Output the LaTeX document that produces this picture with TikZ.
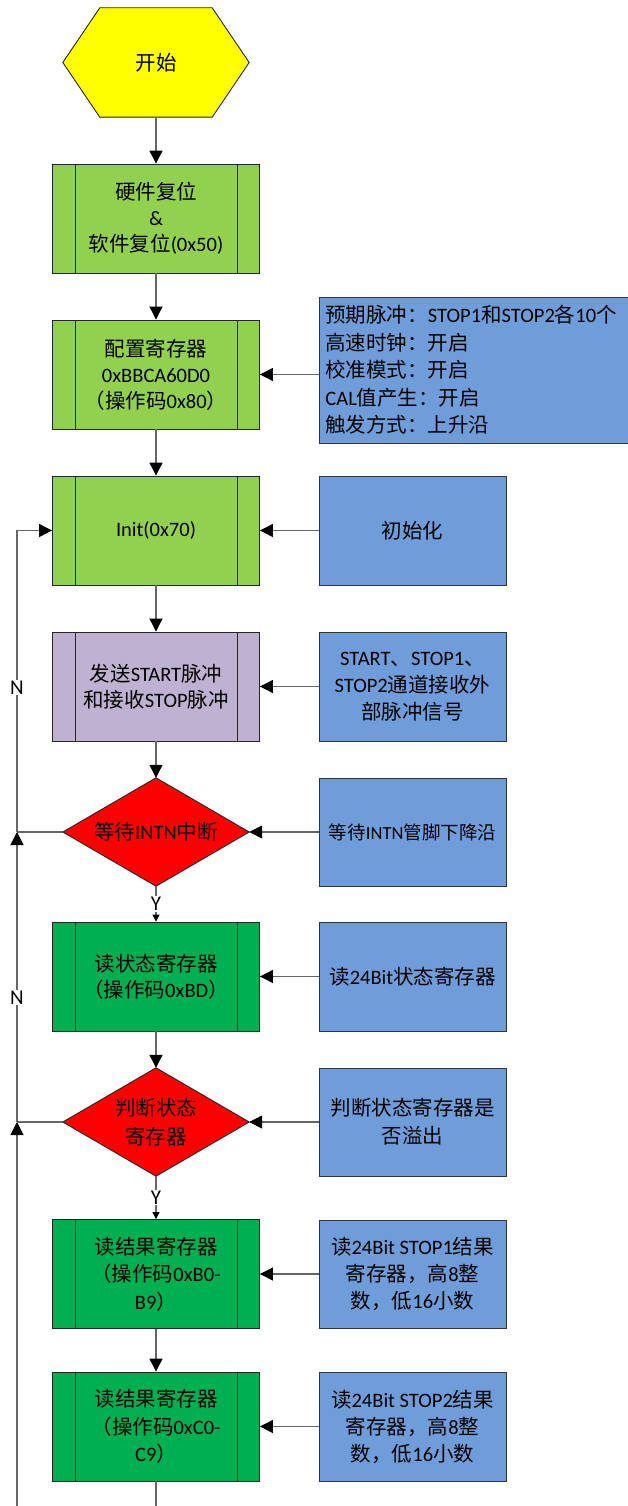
\documentclass[tikz,border=0pt]{standalone}
\usepackage{fontspec}
\setmainfont{Carlito}
\newfontfamily\cjkfont{Noto Sans CJK SC}
\usetikzlibrary{arrows.meta,calc}
\XeTeXinterchartokenstate=1
\newXeTeXintercharclass\CJKcls
\newcount\cjkc
\cjkc="4E00
\loop
  \XeTeXcharclass\cjkc=\CJKcls
  \ifnum\cjkc<"9FFF \advance\cjkc by 1
\repeat
\cjkc="3000
\loop
  \XeTeXcharclass\cjkc=\CJKcls
  \ifnum\cjkc<"303F \advance\cjkc by 1
\repeat
\cjkc="FF00
\loop
  \XeTeXcharclass\cjkc=\CJKcls
  \ifnum\cjkc<"FFEF \advance\cjkc by 1
\repeat
\XeTeXinterchartoks 0 \CJKcls = {\cjkfont}
\XeTeXinterchartoks 4095 \CJKcls = {\cjkfont}
\XeTeXinterchartoks \CJKcls 0 = {\rmfamily}
\XeTeXinterchartoks 4095 0 = {\rmfamily}
\definecolor{hexyellow}{HTML}{FFFF00}
\definecolor{lgreen}{HTML}{92D050}
\definecolor{dgreen}{HTML}{00B050}
\definecolor{lpurple}{RGB}{190,177,210}
\definecolor{dred}{HTML}{FF0000}
\definecolor{noteblue}{HTML}{6F9DD9}
\begin{document}
\begin{tikzpicture}[x=1pt,y=-1pt,
  base/.style={font=\fontsize{20.5}{26}\selectfont, text=black, align=center, inner sep=0pt},
  proc/.style={base, draw=black!85, line width=0.9pt, minimum width=207pt, minimum height=109pt},
  note/.style={base, draw=black!80, line width=0.9pt, fill=noteblue, minimum width=187pt, minimum height=109pt},
  frame/.style={minimum width=186pt, minimum height=109pt, inner sep=0pt},
  outline/.style={draw=black!85, line width=0.9pt},
  conn/.style={draw=black!60, line width=1.1pt},
  arr/.style={conn, -{Triangle[width=13pt,length=13pt,color=black]}},
  yarr/.style={conn, -{Triangle[width=7pt,length=7pt,color=black]}},
  lab/.style={fill=white, font=\fontsize{21}{24}\selectfont, inner sep=1pt}
]
\useasboundingbox (0,0) rectangle (627,1506);
\fill[white] (0,0) rectangle (627,1506);

% start hexagon
\node[frame] (start) at (156,62.5) {};
\draw[outline, fill=hexyellow] (start.west) -- ($(start.north west)+(37,0)$) -- ($(start.north east)+(-37,0)$) -- (start.east) -- ($(start.south east)+(-37,0)$) -- ($(start.south west)+(37,0)$) -- cycle;
\node[base] (starttxt) at (start.center) {开始};

% main process boxes
\node[proc, fill=lgreen] (b1) at (156,218.5) {硬件复位\\\&\\软件复位(0x50)};
\node[proc, fill=lgreen] (b2) at (156,374.5) {配置寄存器\\0xBBCA60D0\\（操作码0x80）};
\node[proc, fill=lgreen] (b3) at (156,530.5) {Init(0x70)};
\node[proc, fill=lpurple] (b4) at (156,686.5) {发送START脉冲\\和接收STOP脉冲};
\node[frame, minimum height=108pt] (d1) at (156,832) {};
\draw[outline, fill=dred] (d1.west) -- (d1.north) -- (d1.east) -- (d1.south) -- cycle;
\node[base] (d1txt) at (d1.center) {等待INTN中断};
\node[proc, fill=dgreen] (b5) at (156,976.5) {读状态寄存器\\（操作码0xBD）};
\node[frame, minimum height=108pt] (d2) at (156,1122) {};
\draw[outline, fill=dred] (d2.west) -- (d2.north) -- (d2.east) -- (d2.south) -- cycle;
\node[base, font=\fontsize{20.5}{29}\selectfont] (d2txt) at (d2.center) {判断状态\\寄存器};
\node[proc, fill=dgreen, font=\fontsize{20.5}{27.5}\selectfont] (b6) at (156,1274) {读结果寄存器\\（操作码0xB0-\\B9）};
\node[proc, fill=dgreen, font=\fontsize{20.5}{27.5}\selectfont] (b7) at (156,1426.5) {读结果寄存器\\（操作码0xC0-\\C9）};

\foreach \n in {b1,b2,b3,b4,b5,b6,b7}{
  \draw[outline] ([xshift=23pt]\n.north west) -- ([xshift=23pt]\n.south west);
  \draw[outline] ([xshift=-23pt]\n.north east) -- ([xshift=-23pt]\n.south east);
}

% right notes
\node[note, anchor=west, align=left, text width=309pt, inner xsep=6pt, minimum height=146pt, font=\fontsize{20.5}{27.5}\selectfont] (r1) at (319,370) {预期脉冲：STOP1和STOP2各10个\\高速时钟：开启\\校准模式：开启\\CAL值产生：开启\\触发方式：上升沿};
\node[note] (r3) at (412.5,530.5) {初始化};
\node[note, font=\fontsize{20.5}{27}\selectfont] (r4) at (412.5,686.5) {START、STOP1、\\STOP2通道接收外\\部脉冲信号};
\node[note, minimum height=108pt, font=\fontsize{18.5}{24}\selectfont] (r5a) at (412.5,832) {等待INTN管脚下降沿};
\node[note] (r5) at (412.5,976.5) {读24Bit状态寄存器};
\node[note, minimum height=108pt, font=\fontsize{20.5}{28}\selectfont] (r6a) at (412.5,1122) {判断状态寄存器是\\否溢出};
\node[note, minimum height=108pt, font=\fontsize{20.5}{27}\selectfont] (r6) at (412.5,1274) {读24Bit STOP1结果\\寄存器，高8整\\数，低16小数};
\node[note, font=\fontsize{20.5}{27}\selectfont] (r7) at (412.5,1426.5) {读24Bit STOP2结果\\寄存器，高8整\\数，低16小数};

% main flow
\draw[arr] (start.south) -- (b1.north);
\draw[arr] (b1.south) -- (b2.north);
\draw[arr] (b2.south) -- (b3.north);
\draw[arr] (b3.south) -- (b4.north);
\draw[arr] (b4.south) -- (d1.north);
\draw[yarr] (d1.south) -- node[lab]{Y} (b5.north);
\draw[arr] (b5.south) -- (d2.north);
\draw[yarr] (d2.south) -- node[lab]{Y} (b6.north);
\draw[arr] (b6.south) -- (b7.north);
\coordinate (b7out) at (156,1506);
\draw[conn] (b7.south) -- (b7out);

% notes to boxes
\draw[arr] (r1.west |- b2.east) -- (b2.east);
\draw[arr] (r3.west) -- (b3.east);
\draw[arr] (r4.west) -- (b4.east);
\draw[arr] (r5a.west) -- (d1.east);
\draw[arr] (r5.west) -- (b5.east);
\draw[arr] (r6a.west) -- (d2.east);
\draw[arr] (r6.west) -- (b6.east);
\draw[arr] (r7.west) -- (b7.east);

% N loop
\coordinate (j1) at (17,832);
\coordinate (j2) at (17,1122);
\coordinate (jbot) at (17,1506);
\draw[conn] (d1.west) -- (j1);
\draw[conn] (d2.west) -- (j2);
\draw[arr] (jbot) -- (j2);
\draw[arr] (j2) -- node[lab, pos=0.43]{N} (j1);
\draw[arr] (j1) |- node[lab, pos=0.24]{N} (b3.west);
\end{tikzpicture}
\end{document}
